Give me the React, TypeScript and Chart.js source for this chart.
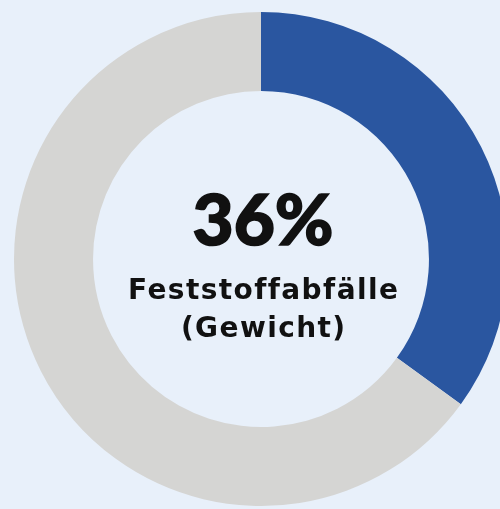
import React, { useEffect, useRef } from "react";
import { Chart, registerables } from "chart.js";

Chart.register(...registerables);

const labels = ["Feststoffabfälle (Gewicht)", "Rest"];
const values = [35, 65];
const colors = ["#2a56a0", "#d5d5d3"];
const centerValue = "36%";
const centerLines = ["Feststoffabfälle", "(Gewicht)"];

export default function App() {
  const ref = useRef<HTMLCanvasElement | null>(null);
  useEffect(() => {
    if (!ref.current) return;
    const chart = new Chart(ref.current, {
      type: "doughnut",
      data: {
        labels,
        datasets: [
          {
            data: values,
            backgroundColor: colors,
            borderWidth: 0,
          },
        ],
      },
      options: {
        animation: false,
        responsive: false,
        cutout: "68%",
        layout: { padding: 12 },
        plugins: { legend: { display: false }, tooltip: { enabled: false } },
      },
    });
    return () => chart.destroy();
  }, []);
  return (
    <div
      style={{
        position: "fixed",
        left: 0,
        top: 0,
        width: 500,
        height: 509,
        overflow: "hidden",
        background: "#e8f0fa",
      }}
    >
      <canvas
        ref={ref}
        width={522}
        height={518}
        style={{ position: "absolute", left: 0, top: 0, width: 522, height: 518 }}
      />
      <div
        style={{
          position: "absolute",
          left: 63,
          width: 400,
          top: 178,
          textAlign: "center",
          fontFamily: "Lato, 'DejaVu Sans', sans-serif",
          fontWeight: 900,
          fontSize: 71,
          lineHeight: "80px",
          color: "#111",
          WebkitTextStroke: "1.6px #111",
        }}
      >
        {centerValue}
      </div>
      <div
        style={{
          position: "absolute",
          left: 63,
          width: 400,
          top: 271,
          textAlign: "center",
          fontFamily: "'DejaVu Sans', sans-serif",
          fontWeight: 700,
          fontSize: 28,
          lineHeight: "38px",
          letterSpacing: "1.4px",
          paddingLeft: "1.4px",
          boxSizing: "border-box",
          color: "#111",
        }}
      >
        {centerLines.map((l) => (
          <div key={l}>{l}</div>
        ))}
      </div>
    </div>
  );
}
